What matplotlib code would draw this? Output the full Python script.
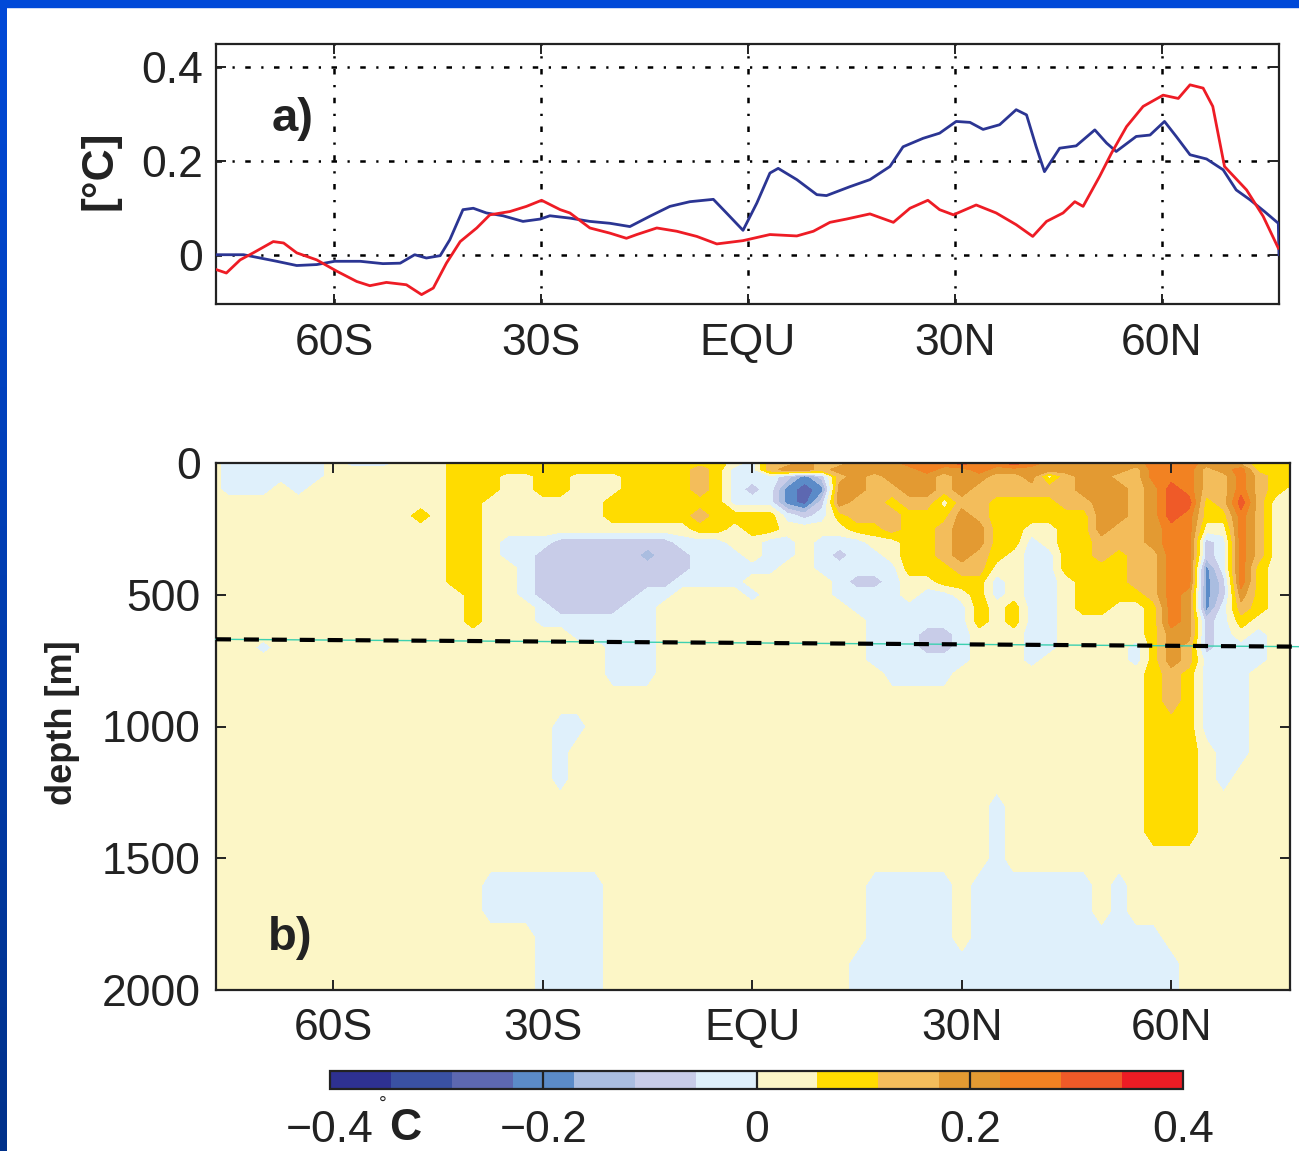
import numpy as np
import matplotlib
matplotlib.use('Agg')
import matplotlib.pyplot as plt
from matplotlib.patches import Rectangle
from matplotlib.colors import LinearSegmentedColormap

plt.rcParams['font.family'] = ['Liberation Sans', 'DejaVu Sans']

# ---------------- panel a data ----------------
blue_lat = [-77, -73.1, -70.7, -68.3, -65.4, -62.5, -59.9, -56.2, -52.9, -50.4, -48.3, -46.6,
            -44.6, -43.2, -41.3, -39.8, -37.9, -35.5, -32.6, -30.1, -28.7, -25.8, -22.9, -20.0,
            -17.1, -14.2, -11.3, -8.4, -5.0, -3.1, -0.7, 1.3, 3.2, 4.4, 7.1, 10.0, 11.4, 14.8,
            17.7, 20.6, 22.5, 25.4, 27.8, 30.2, 32.2, 34.1, 36.5, 38.9, 40.4, 41.8, 43.0, 45.2,
            47.6, 50.3, 52.0, 53.4, 56.3, 58.3, 60.4, 62.1, 64.1, 66.5, 68.9, 70.8, 72.8, 74.9,
            76.9, 77.0]
blue_val = [0.0, 0.0, -0.007, -0.014, -0.023, -0.021, -0.014, -0.014, -0.019, -0.018, 0.0, -0.007,
            -0.002, 0.032, 0.096, 0.099, 0.089, 0.083, 0.071, 0.076, 0.083, 0.078, 0.071, 0.067,
            0.060, 0.082, 0.103, 0.113, 0.118, 0.089, 0.052, 0.110, 0.174, 0.184, 0.160, 0.128,
            0.126, 0.145, 0.160, 0.188, 0.230, 0.248, 0.259, 0.284, 0.282, 0.267, 0.277, 0.309,
            0.298, 0.230, 0.177, 0.227, 0.232, 0.266, 0.238, 0.220, 0.252, 0.255, 0.284, 0.252,
            0.213, 0.204, 0.181, 0.138, 0.117, 0.092, 0.067, 0.0]

red_lat = [-77, -75.6, -73.6, -71.7, -68.8, -67.3, -65.4, -62.5, -59.6, -56.7, -54.8, -52.4,
           -49.5, -47.3, -45.6, -43.7, -41.7, -39.3, -37.4, -34.5, -32.1, -29.9, -27.2, -25.8,
           -22.9, -20.0, -17.6, -16.1, -13.2, -10.3, -7.4, -4.5, -0.7, 3.2, 7.1, 9.5, 11.9, 14.3,
           17.7, 21.1, 23.5, 26.1, 27.8, 29.8, 33.1, 36.0, 38.9, 41.3, 43.3, 45.7, 47.4, 48.6,
           51.0, 52.7, 54.9, 57.3, 60.2, 62.4, 64.1, 66.0, 67.4, 69.1, 72.3, 74.7, 76.9]
red_val = [-0.032, -0.039, -0.011, 0.004, 0.028, 0.025, 0.004, -0.011, -0.035, -0.057, -0.066, -0.059,
           -0.064, -0.085, -0.071, -0.018, 0.028, 0.057, 0.085, 0.092, 0.103, 0.116, 0.096, 0.089,
           0.057, 0.046, 0.035, 0.043, 0.057, 0.050, 0.039, 0.023, 0.030, 0.043, 0.040, 0.050,
           0.069, 0.076, 0.087, 0.069, 0.099, 0.116, 0.096, 0.085, 0.106, 0.089, 0.064, 0.039,
           0.071, 0.089, 0.113, 0.103, 0.167, 0.216, 0.273, 0.316, 0.340, 0.333, 0.362, 0.355,
           0.316, 0.188, 0.138, 0.082, 0.014]

xtick_pos = [-60, -30, 0, 30, 60]
xtick_labels = ['60S', '30S', 'EQU', '30N', '60N']
a_yticks = [0, 0.2, 0.4]
a_yticklabels = ['0', '0.2', '0.4']
b_yticks = [0, 500, 1000, 1500, 2000]
b_yticklabels = ['0', '500', '1000', '1500', '2000']

# ---------------- panel b data (section, binned values) ----------------
field_lat = np.arange(-77.5, 77.6, 2.5)
field_depth = [0, 25, 50, 100, 150, 200, 250, 300, 350, 400, 450, 500, 550, 600, 650, 700, 750, 800,
               900, 1000, 1100, 1200, 1300, 1400, 1500, 1600, 1700, 1800, 1900, 2000]
# one character per grid cell = colour class
field_codes = [
    ".---- --.-- -...y yyyyy yyyyy yyyyy .-ooO ooOOO rrrRr rRrOO OOOOr rrOOo yyy",
    ".---- --... ....y yyyyy yyyyy yyyoy --oOO oOOOO OrOOr OOOOO OOOor rroOr yyy",
    ".---- --... ....y yy..y y...y yyyoy ---=4 =oOoO OOoOO ooO.o OOoor rroor oyy",
    ".---. -.... ....y yy..y y...y yyyoy -=-43 4OOoo OOoOo ooooo OOOoO Rroor oy.",
    "..... ..... ....y y.... ...yy yyyyy ---43 =Oooy oo.oo yyyyo oOOoO RRyoR o..",
    "..... ..... ..y.y y.... ...yy yyyoy yyy-= -yooo yyyOo yyyyy yOOoO Rryyr o..",
    "..... ..... ....y y.... ..... ...yy .yy.. ..yyo yyoOO yy..y yOooO rr..r o..",
    "..... ..... ....y y.--- ===== ==--- ..--. ---.. yyoOO yy-.y yoooO rr=-r o..",
    "..... ..... ....y y.--= ===== 5==-- -.--. -=--. yyoOo y.--y yoyoo rr=-r o..",
    "..... ..... ....y y..-= ===== ===-- ---.. ----- yyyoo ..--y yyyoo rr4-r y..",
    "..... ..... ....y y..-= ===== ==--- -.... .-==- ..yyy -.--. yyyoo rr4=r y..",
    "..... ..... ..... y..-= ===== --... .-... .---- .--.y -.--. yyyyo rO4=O y..",
    "..... ..... ..... y...- ====- -.... ..... ..--- ----y .y--. yy..y rO4-o y..",
    "..... ..... ..... y...- ----- -.... ..... ...-- ----y .y--. ....y rO=-y ...",
    "..... ..... ..... ..... .---- -.... ..... ...-- -==-. ..--. ....y OO=-. -..",
    "...-. ..... ..... ..... ...-- -.... ..... ...-- -==-. ..--. ...-y Oo=-- -..",
    "..... ..... ..... ..... ...-- -.... ..... ...-- ----. ..-.. ...-y Oo--- -..",
    "..... ..... ..... ..... ...-- -.... ..... ....- ---.. ..... ....y oy--- ...",
    "..... ..... ..... ..... ..... ..... ..... ..... ..... ..... ....y oy--- ...",
    "..... ..... ..... ..... --... ..... ..... ..... ..... ..... ....y yy--- ...",
    "..... ..... ..... ..... -.... ..... ..... ..... ..... ..... ....y yy.-- ...",
    "..... ..... ..... ..... -.... ..... ..... ..... ..... ..... ....y yy.-. ...",
    "..... ..... ..... ..... ..... ..... ..... ..... ..... -.... ....y yy... ...",
    "..... ..... ..... ..... ..... ..... ..... ..... ..... -.... ....y yy... ...",
    "..... ..... ..... ..... ..... ..... ..... ..... ..... -.... ..... ..... ...",
    "..... ..... ..... .---- ---.. ..... ..... ...-- ---.- ----- -.-.. ..... ...",
    "..... ..... ..... .---- ---.. ..... ..... ...-- ---.- ----- -.-.. ..... ...",
    "..... ..... ..... ....- ---.. ..... ..... ...-- ---.- ----- ----- ..... ...",
    "..... ..... ..... ....- ---.. ..... ..... ..--- ----- ----- ----- -.... ...",
    "..... ..... ..... ....- ---.. ..... ..... ..--- ----- ----- ----- -.... ...",
]
code_class = {'1': 0, '2': 1, '3': 2, '4': 3, '5': 4, '=': 5, '-': 6, '.': 7,
              'y': 8, 'o': 9, 'O': 10, 'r': 11, 'R': 12, 'X': 13}
levels = np.linspace(-0.4, 0.4, 15)
level_colors = ['#2e3192', '#3a51a3', '#5d68b1', '#5b8bc8', '#aabde0', '#c8cce8', '#dff0fb',
                '#fcf6c6', '#ffdc00', '#f3bd5b', '#e39a32', '#f28222', '#ef5a28', '#ed1c24']
cbar_ticks = [-0.4, -0.2, 0, 0.2, 0.4]
cbar_ticklabels = ['\u22120.4', '\u22120.2', '0', '0.2', '0.4']

ref_lat = [-76.8, 78.3]
ref_depth = [669, 697]

step = levels[1] - levels[0]
Z = np.array([[levels[code_class[c]] + step / 2 for c in ''.join(r.split())] for r in field_codes])

# ---------------- figure ----------------
W, H = 1299, 1151
fig = plt.figure(figsize=(W / 100, H / 100), dpi=100)
fig.patch.set_facecolor('white')


def fx(px):
    return px / W


def fy(py):
    return 1 - py / H


# blue frame
axbar = fig.add_axes([0, 0, 7 / W, 1])
grad = np.linspace(0, 1, 256).reshape(-1, 1)
axbar.imshow(grad, aspect='auto', cmap=LinearSegmentedColormap.from_list('bl', ['#0049d8', '#00318a']))
axbar.axis('off')
fig.patches.append(Rectangle((0, fy(7)), 1, 7 / H, transform=fig.transFigure,
                             color='#0049d8', zorder=10))

grid_ls = (0, (2.2, 4.2, 0.9, 4.2))
tick_kw = dict(direction='in', length=7, width=1.4, top=True, right=True, labelsize=32,
               colors='#222222', labelcolor='#222222')

# panel a
axa = fig.add_axes([fx(216), fy(304), (1279 - 216) / W, (304 - 44) / H])
axa.plot(blue_lat, blue_val, color='#2b3593', lw=2.0, zorder=3)
axa.plot(red_lat, red_val, color='#ee1c25', lw=2.0, zorder=3)
axa.set_xlim(-77.1, 77.0)
axa.set_ylim(-0.105, 0.449)
axa.set_xticks(xtick_pos)
axa.set_xticklabels(xtick_labels)
axa.set_yticks(a_yticks)
axa.set_yticklabels(a_yticklabels)
axa.set_axisbelow(True)
axa.grid(True, color='k', lw=1.8, linestyle=grid_ls)
axa.tick_params(axis='both', **tick_kw)
axa.tick_params(axis='x', pad=14)
axa.tick_params(axis='y', pad=9)
for s in axa.spines.values():
    s.set_linewidth(1.6)
    s.set_color('#222222')
axa.text(0.072, 0.71, 'a)', transform=axa.transAxes, fontsize=34, fontweight='bold',
         ha='center', va='center', color='#222222')

# panel b
axb = fig.add_axes([fx(216), fy(990), (1290 - 216) / W, (990 - 463) / H])
cf = axb.contourf(field_lat, field_depth, Z, levels=levels, colors=level_colors)
cf.set_edgecolor('face')
cf.set_linewidth(0.3)
axb.set_xlim(-76.8, 77.0)
axb.set_ylim(2000, 0)
axb.set_xticks(xtick_pos)
axb.set_xticklabels(xtick_labels)
axb.set_yticks(b_yticks)
axb.set_yticklabels(b_yticklabels)
axb.tick_params(axis='both', **tick_kw)
axb.tick_params(axis='x', pad=13)
axb.tick_params(axis='y', pad=11)
for s in axb.spines.values():
    s.set_linewidth(1.6)
    s.set_color('#222222')
    s.set_zorder(5)
axb.text(0.069, 0.099, 'b)', transform=axb.transAxes, fontsize=34, fontweight='bold',
         ha='center', va='center', color='#222222')
axb.plot(ref_lat, ref_depth, color='#3cd0b0', lw=1.0, clip_on=False, zorder=6)
axb.plot(ref_lat, ref_depth, color='k', lw=3.0, linestyle=(0, (3.6, 3.1)), clip_on=False, zorder=7)

# axis labels
fig.text(fx(100), fy(170), '[°C]', rotation=90, fontsize=32, fontweight='bold',
         ha='center', va='center', color='#222222')
fig.text(fx(62), fy(723), 'depth [m]', rotation=90, fontsize=26, fontweight='bold',
         ha='center', va='center', color='#222222')

# colorbar
cax = fig.add_axes([fx(330), fy(1089), (1183 - 330) / W, 18 / H])
cb = fig.colorbar(cf, cax=cax, orientation='horizontal', ticks=cbar_ticks)
cb.set_ticklabels(cbar_ticklabels)
cb.outline.set_linewidth(1.6)
cb.outline.set_edgecolor('#222222')
cax.tick_params(length=0, labelsize=32, pad=15, labelcolor='#222222')
for v in cbar_ticks[1:-1]:
    cax.axvline(v, color='#222222', lw=1.6)
fig.text(fx(383), fy(1104), '°', fontsize=14, ha='center', va='center', color='#222222')
fig.text(fx(405), fy(1129), 'C', fontsize=32, fontweight='bold', ha='center', va='center',
         color='#222222')

fig.savefig('out.png', dpi=100, facecolor=fig.get_facecolor())
